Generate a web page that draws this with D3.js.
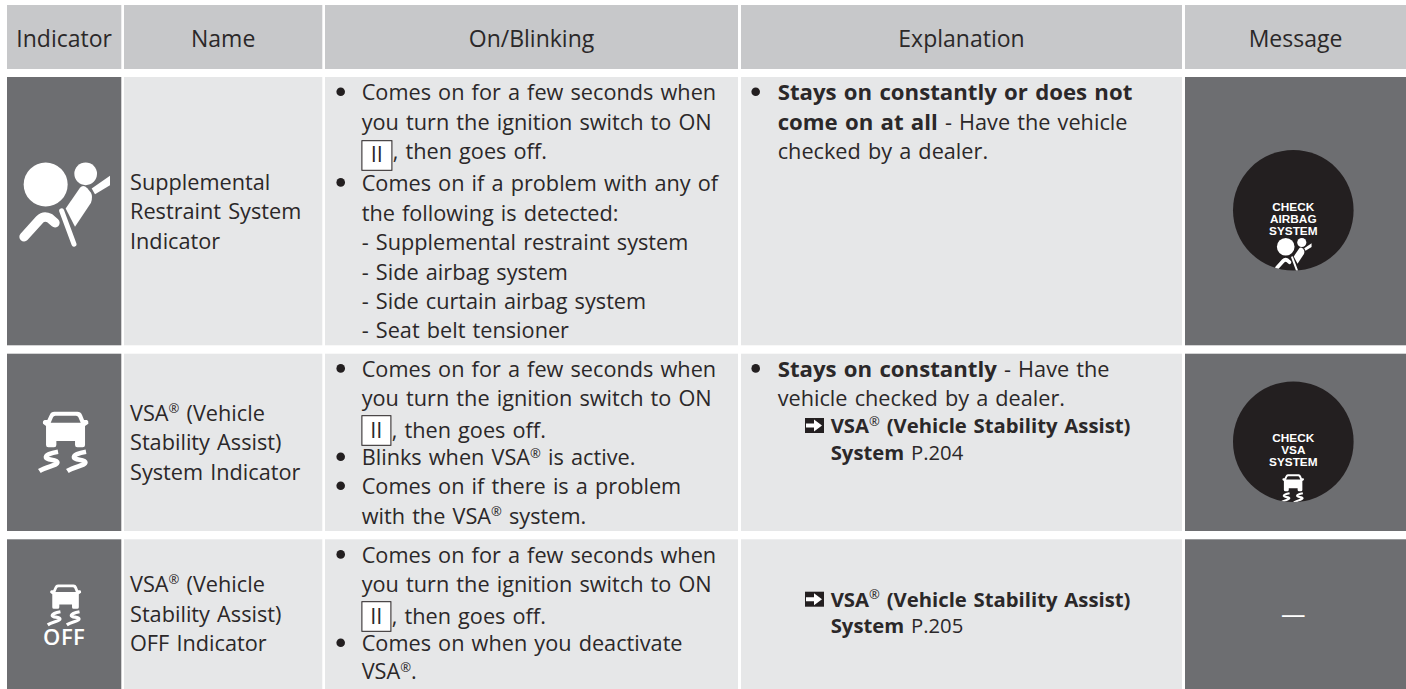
<!DOCTYPE html>
<html>
<head>
<meta charset="utf-8">
<script src="https://cdn.jsdelivr.net/npm/d3@7"></script>
<style>
  html, body { margin: 0; padding: 0; background: #fff; overflow: hidden; }
  svg { display: block; }
  text { font-family: "Open Sans", "Noto Sans", sans-serif; fill: #2b2829; }
</style>
</head>
<body>
<div id="chart"></div>
<script>
// table content
var headers = ["Indicator", "Name", "On/Blinking", "Explanation", "Message"];
var rowKeys = ["srs", "vsa", "vsaOff"];

var names = [
  ["Supplemental", "Restraint System", "Indicator"],
  ["VSA® (Vehicle", "Stability Assist)", "System Indicator"],
  ["VSA® (Vehicle", "Stability Assist)", "OFF Indicator"]
];

// "* " starts a bullet, "[II]" is the ignition box, **x** is bold
var onBlinking = [
  ["* Comes on for a few seconds when", "you turn the ignition switch to ON", "[II], then goes off.",
   "* Comes on if a problem with any of", "the following is detected:", "- Supplemental restraint system",
   "- Side airbag system", "- Side curtain airbag system", "- Seat belt tensioner"],
  ["* Comes on for a few seconds when", "you turn the ignition switch to ON", "[II], then goes off.",
   "* Blinks when VSA® is active.", "* Comes on if there is a problem", "with the VSA® system."],
  ["* Comes on for a few seconds when", "you turn the ignition switch to ON", "[II], then goes off.",
   "* Comes on when you deactivate", "VSA®."]
];

var explanation = [
  ["* **Stays on constantly or does not**", "**come on at all** - Have the vehicle", "checked by a dealer."],
  ["* **Stays on constantly** - Have the", "vehicle checked by a dealer.", "> **VSA® (Vehicle Stability Assist)**", ">>**System** P.204"],
  ["> **VSA® (Vehicle Stability Assist)**", ">>**System** P.205"]
];

var messages = [
  ["CHECK", "AIRBAG", "SYSTEM"],
  ["CHECK", "VSA", "SYSTEM"],
  null
];
var noMessage = "—";

// layout
var w = 1406, h = 689;
var colLeft = d3.scaleOrdinal().domain(headers).range([7, 124, 325, 741, 1185]);
var colRight = d3.scaleOrdinal().domain(headers).range([121.3, 322.3, 738, 1182, 1406]);
var headerTop = 5, headerBottom = 69, headerBaseline = 46.5;
var rowTop = d3.scaleOrdinal().domain(rowKeys).range([77, 353.7, 539.3]);
var rowBottom = d3.scaleOrdinal().domain(rowKeys).range([345.3, 531, 689]);

var nameBaselines = [[190, 219, 249], [420.7, 450, 480], [591.7, 621.7, 651]];
var onBaselines = [
  [100, 129.5, 159, 190.7, 220.5, 250, 279.5, 309, 338],
  [376.7, 406, 438, 465, 494, 523.7],
  [562.7, 592, 624, 651, 679]
];
var exBaselines = [[100, 129.5, 159], [376.7, 406, 433, 460], [606.7, 633]];
var messageBaselines = [[211, 223, 235], [441.7, 453.7, 466]];

var fontSize = 21.7, boldSize = 22.2, refSize = 20.3, wordGap = 1.5;
var circleX = 1293.3, circleY = [210.3, 441.7], circleR = 60.3;

var svg = d3.select("#chart").append("svg").attr("width", w).attr("height", h);

// header band
svg.append("g").selectAll("rect").data(headers).enter().append("rect")
  .attr("x", function(d) { return colLeft(d); })
  .attr("y", headerTop)
  .attr("width", function(d) { return colRight(d) - colLeft(d); })
  .attr("height", headerBottom - headerTop)
  .attr("fill", "#c7c8ca");

svg.append("g").selectAll("text").data(headers).enter().append("text")
  .attr("x", function(d) { return (colLeft(d) + colRight(d)) / 2; })
  .attr("y", headerBaseline)
  .attr("text-anchor", "middle")
  .style("font-size", "23px")
  .text(function(d) { return d; });

// body cells
rowKeys.forEach(function(key) {
  var g = svg.append("g");
  g.selectAll("rect").data(headers).enter().append("rect")
    .attr("x", function(d) { return colLeft(d); })
    .attr("y", rowTop(key))
    .attr("width", function(d) { return colRight(d) - colLeft(d); })
    .attr("height", rowBottom(key) - rowTop(key))
    .attr("fill", function(d) { return (d == "Indicator" || d == "Message") ? "#6d6e71" : "#e6e7e8"; });
});

// splits a line into plain, bold and ® pieces
function addRuns(t, line, size) {
  var afterMark = false;
  line.split("**").forEach(function(part, i) {
    var bold = i % 2 == 1;
    part.split("®").forEach(function(piece, j) {
      if (j > 0) {
        t.append("tspan").attr("dy", "-7.5")
          .style("font-size", "13px").style("font-weight", 400).text("®");
        afterMark = true;
      }
      if (!piece) return;
      var s = t.append("tspan")
        .style("font-weight", bold ? 700 : 400)
        .style("font-size", (bold && size == fontSize ? boldSize : size) + "px")
        .text(piece);
      if (afterMark) { s.attr("dy", "7.5"); afterMark = false; }
    });
  });
}

function drawLines(lines, baselines, textX, bulletX, box) {
  var g = svg.append("g");
  lines.forEach(function(raw, i) {
    var y = baselines[i], x = textX, line = raw, size = fontSize;
    if (line.indexOf("* ") == 0) {
      g.append("circle").attr("cx", bulletX).attr("cy", y - 8.3).attr("r", 4.3).attr("fill", "#231f20");
      line = line.slice(2);
    }
    if (line.indexOf("[II]") == 0) {
      g.append("rect").attr("x", x + 0.2).attr("y", y - box.up).attr("width", box.w).attr("height", 29.6)
        .attr("fill", "#fff").attr("stroke", "#231f20").attr("stroke-width", 1);
      g.append("text").attr("x", x + box.w / 2).attr("y", y + box.down)
        .attr("text-anchor", "middle").style("font-size", fontSize + "px").text("II");
      x += box.w + 1;
      line = line.slice(4);
    }
    if (line.indexOf(">>") == 0) { x = 830.7; line = line.slice(2); size = refSize; }
    if (line.indexOf("> ") == 0) {
      arrow(g, 805, y - 15);
      x = 830.7;
      line = line.slice(2);
      size = refSize;
    }
    var t = g.append("text").attr("x", x).attr("y", y)
      .style("word-spacing", wordGap + "px");
    addRuns(t, line, size);
  });
}

// cross reference arrow
function arrow(g, x, y) {
  var a = g.append("g").attr("transform", "translate(" + x + "," + y + ")");
  a.append("rect").attr("width", 19).attr("height", 15).attr("fill", "#231f20");
  a.append("path").attr("d", "M1,5.5H9V1.5L17,7.5L9,13.5V9.5H1Z").attr("fill", "#fff");
}

// indicator glyphs, drawn in the same units as the zoomed artwork
function airbagIcon(g, x, y, k) {
  var a = g.append("g").attr("transform", "translate(" + x + "," + y + ") scale(" + k + ")").attr("fill", "#fff");
  a.append("circle").attr("cx", 80).attr("cy", 63).attr("r", 66);
  a.append("circle").attr("cx", 200).attr("cy", 31).attr("r", 34);
  a.append("path").attr("d", "M140,135L183,73Q192,62 205,74L216,88Q222,100 216,118L168,190Z");
  a.append("path").attr("d", "M218,75L273,37V65L228,92Z");
  a.append("path").attr("d", "M15,220L62,168Q75,155 92,164L108,178").attr("fill", "none")
    .attr("stroke", "#fff").attr("stroke-width", 28).attr("stroke-linecap", "round");
  a.append("path").attr("d", "M128,142L165,242").attr("fill", "none")
    .attr("stroke", "#fff").attr("stroke-width", 15).attr("stroke-linecap", "round");
}

function carIcon(g, x, y, k) {
  var a = g.append("g").attr("transform", "translate(" + x + "," + y + ") scale(" + k + ")").attr("fill", "#fff");
  a.append("path").attr("fill-rule", "evenodd").attr("d",
    "M35,0H104Q114,0 118,10L124,25H133Q138,27 137,36L127,43V85V100Q127,107 120,107H104Q97,107 97,100V88H41V100Q41,107 34,107H17Q10,107 10,100V43L1,36Q-1,27 6,25H14L21,10Q25,0 35,0Z" +
    "M38,12Q33,12 31,17L24,33H114L107,17Q105,12 100,12Z");
  var skid = "M46,120C24,124 8,130 10,138C12,146 44,142 44,152C44,162 10,164 -10,178";
  [0, 84].forEach(function(dx) {
    a.append("path").attr("d", skid).attr("transform", "translate(" + dx + ",0)")
      .attr("fill", "none").attr("stroke", "#fff").attr("stroke-width", 14);
  });
}

var iconG = svg.append("g");
airbagIcon(iconG, 19, 163.5, 1 / 3);
carIcon(iconG, 42.7, 411.7, 1 / 3);
carIcon(iconG, 50, 584.5, 0.227);
iconG.append("text").attr("x", 64.2).attr("y", 645).attr("text-anchor", "middle")
  .style("font-size", "22px").style("font-weight", 600).style("letter-spacing", "0.5px")
  .style("fill", "#fff").text("OFF");

// name, on/blinking, explanation columns
rowKeys.forEach(function(key, r) {
  drawLines(names[r], nameBaselines[r], 130, 0);
  drawLines(onBlinking[r], onBaselines[r], 361.7, 340.7,
    r == 0 ? { w: 30, up: 18.3, down: 3 } : { w: 29, up: 22.3, down: 0 });
  drawLines(explanation[r], exBaselines[r], 777.7, 755.7);
});

// message column
var defs = svg.append("defs");
messages.forEach(function(msg, r) {
  if (!msg) {
    svg.append("text").attr("x", circleX).attr("y", 623).attr("text-anchor", "middle")
      .style("font-size", "24.5px").style("fill", "#fff").text(noMessage);
    return;
  }
  var clipId = "clip" + r;
  defs.append("clipPath").attr("id", clipId).append("circle")
    .attr("cx", circleX).attr("cy", circleY[r]).attr("r", circleR);
  svg.append("circle").attr("cx", circleX).attr("cy", circleY[r]).attr("r", circleR).attr("fill", "#231f20");
  var g = svg.append("g").attr("clip-path", "url(#" + clipId + ")");
  g.selectAll("text").data(msg).enter().append("text")
    .attr("x", circleX)
    .attr("y", function(d, i) { return messageBaselines[r][i]; })
    .attr("text-anchor", "middle")
    .style("font-family", "'Liberation Sans', sans-serif")
    .style("font-size", "11.8px")
    .style("font-weight", 700)
    .style("fill", "#fff")
    .text(function(d) { return d; });
  if (r == 0) airbagIcon(g, 1275, 238.3, 0.134);
  else carIcon(g, 1282.3, 474.3, 0.158);
});
</script>
</body>
</html>
